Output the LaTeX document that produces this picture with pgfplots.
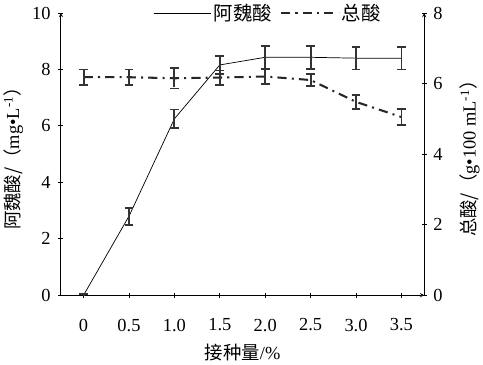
\documentclass[border=0pt]{standalone}
\usepackage{pgfplots}
\pgfplotsset{compat=1.18}
\usepackage{fontspec}
\setmainfont{Liberation Serif}
\newfontfamily\cjk{Noto Sans CJK SC}
\begin{document}
\begin{tikzpicture}
\pgfplotsset{
  common/.style={
    scale only axis, width=354bp, height=275bp,
    xmin=-0.25, xmax=3.75,
    axis line style={-, line width=0.8pt},
    tick align=outside, major tick length=5bp,
    tick style={line width=0.8pt, black},
    ticklabel style={font=\fontsize{18}{20}\selectfont},
    /pgf/number format/assume math mode=true,
  },
  ebar/.style={error bars/.cd, y dir=both, y explicit,
    error bar style={line width=1.8pt, black!80},
    error mark options={rotate=90, mark size=4.2bp, line width=1.8pt, black!80}},
}
\begin{axis}[common,
  ymin=0, ymax=10,
  axis x line=bottom, axis y line=left,
  xtick={0,0.5,1,1.5,2,2.5,3,3.5},
  xticklabels={0,0.5,1.0,1.5,2.0,2.5,3.0,3.5},
  ytick={0,2,4,6,8,10},
  xticklabel style={yshift=-17bp},
  yticklabel style={xshift=-4bp},
  xlabel={{\cjk 接种量}/\%},
  xlabel style={font=\fontsize{18}{20}\selectfont, yshift=-6bp},
  ylabel={{\cjk 阿魏酸/（}mg\textbullet L\textsuperscript{-1}{\cjk ）}},
  ylabel style={font=\fontsize{18}{20}\selectfont, yshift=2bp},
]
\addplot[black, line width=0.7pt, ebar] coordinates {
 (0,0) +- (0,0.05)
 (0.5,2.8) +- (0,0.3)
 (1.0,6.25) +- (0,0.33)
 (1.5,8.16) +- (0,0.33)
 (2.0,8.43) +- (0,0.4)
 (2.5,8.43) +- (0,0.4)
 (3.0,8.4) +- (0,0.4)
 (3.5,8.4) +- (0,0.4)
};
\end{axis}
\begin{axis}[common,
  ymin=0, ymax=8,
  axis x line=none, axis y line=right,
  ytick={0,2,4,6,8},
  yticklabel style={xshift=3bp},
  ylabel={{\cjk 总酸/（}g\textbullet 100 mL\textsuperscript{-1}{\cjk ）}},
  ylabel style={font=\fontsize{18}{20}\selectfont, yshift=-10bp},
  legend style={at={(0.57,1)}, anchor=center, draw=none, fill=none,
    legend columns=-1, font=\fontsize{19}{21}\selectfont\cjk,
    /tikz/every even column/.append style={column sep=6bp}},
  legend image code/.code={\draw[#1] (0bp,0bp) -- (56bp,0bp);},
]
\addlegendimage{black, line width=0.7pt}
\addlegendentry{阿魏酸}
\addlegendimage{black!85, line width=2pt, dash pattern=on 9bp off 5bp on 2bp off 5bp}
\addlegendentry{总酸}
\addplot[forget plot, black!85, line width=2pt, dash pattern=on 9bp off 5bp on 2bp off 5bp, ebar] coordinates {
 (0,6.18) +- (0,0.22)
 (0.5,6.18) +- (0,0.22)
 (1.0,6.15) +- (0,0.29)
 (1.5,6.17) +- (0,0.2)
 (2.0,6.2) +- (0,0.22)
 (2.5,6.1) +- (0,0.18)
 (3.0,5.48) +- (0,0.19)
 (3.5,5.05) +- (0,0.23)
};
\end{axis}
\end{tikzpicture}
\end{document}
